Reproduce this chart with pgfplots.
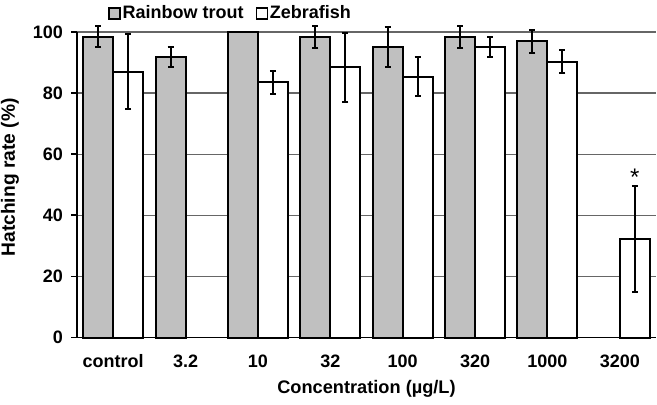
\documentclass[border=0pt]{standalone}
\usepackage{fontspec}
\setmainfont{Liberation Sans}
\usepackage{pgfplots}
\usepackage{pgfplotstable}
\pgfplotsset{compat=1.18}
\definecolor{trout}{RGB}{192,192,192}

\pgfplotstableread{
x y e
0 98.5 3.4
1 91.9 3.3
2 100  0
3 98.5 3.6
4 95.1 6.4
5 98.5 3.6
6 96.9 3.8
}\trout

\pgfplotstableread{
x y e
0 87.0 12.3
2 83.5 3.8
3 88.4 11.3
4 85.4 6.4
5 95.1 3.3
6 90.3 3.8
7 32.2 17.4
}\zebra

\begin{document}
\begin{tikzpicture}
\begin{axis}[
  scale only axis, width=289.5pt, height=152.75pt,
  ybar, bar width=15pt,
  xmin=-0.5, xmax=7.5, ymin=0, ymax=100,
  axis x line*=bottom, axis y line*=left,
  axis line style={line width=0.9pt},
  xtick={0,...,7},
  xticklabels={control,3.2,10,32,100,320,1000,3200},
  xtick style={draw=none},
  minor xtick={-0.5,0.5,...,7.5},
  minor x tick style={line width=0.9pt, black},
  ytick={0,20,...,100},
  ytick style={line width=0.9pt, black},
  tick align=outside, major tick length=3pt, minor tick length=3pt,
  ymajorgrids, grid style={line width=0.6pt, black!60},
  /pgf/number format/assume math mode=true,
  ticklabel style={font=\bfseries\fontsize{9}{11}\selectfont},
  xticklabel style={yshift=-2pt},
  yticklabel style={xshift=-0.5pt},
  xlabel={Concentration (µg/L)},
  ylabel={Hatching rate (\%)},
  xlabel style={font=\bfseries\fontsize{9.1}{11}\selectfont,
    at={(axis description cs:0.5,-0.1686)}, anchor=center},
  ylabel style={font=\bfseries\fontsize{9.6}{11}\selectfont,
    at={(axis description cs:-0.1157,0.524)}, anchor=center},
  clip=false,
  legend columns=2,
  legend style={at={(axis description cs:0,1)}, anchor=west,
    xshift=15.5pt, yshift=9.25pt, draw=none, fill=none, inner sep=0pt,
    font=\bfseries\fontsize{9}{11}\selectfont,
    nodes={inner sep=1pt},
    /tikz/every even column/.append style={column sep=5pt}},
  sq/.style={legend image code/.code={
    \draw[##1, line width=0.6pt] (0pt,-2.75pt) rectangle (5.5pt,2.75pt);}},
]
\addplot[fill=trout, draw=black, line width=1pt, bar shift=-7.5pt, sq,
  error bars/.cd, y dir=both, y explicit,
  error bar style={line width=1pt, black},
  error mark options={rotate=90, mark size=1.5pt, line width=1pt, black}]
  table[x=x, y=y, y error=e] {\trout};
\addplot[fill=white, draw=black, line width=1pt, bar shift=7.5pt, sq,
  error bars/.cd, y dir=both, y explicit,
  error bar style={line width=1pt, black},
  error mark options={rotate=90, mark size=1.5pt, line width=1pt, black}]
  table[x=x, y=y, y error=e] {\zebra};
\legend{Rainbow trout, Zebrafish}
\node[font=\fontsize{12}{12}\selectfont, anchor=center, xshift=7.5pt] at (axis cs:7,52.5) {*};
\end{axis}
\pgfresetboundingbox
\path[use as bounding box] ([shift={(-38.5pt,-33.25pt)}]current axis.south west)
  rectangle ([shift={(0.5pt,16pt)}]current axis.north east);
\end{tikzpicture}
\end{document}
